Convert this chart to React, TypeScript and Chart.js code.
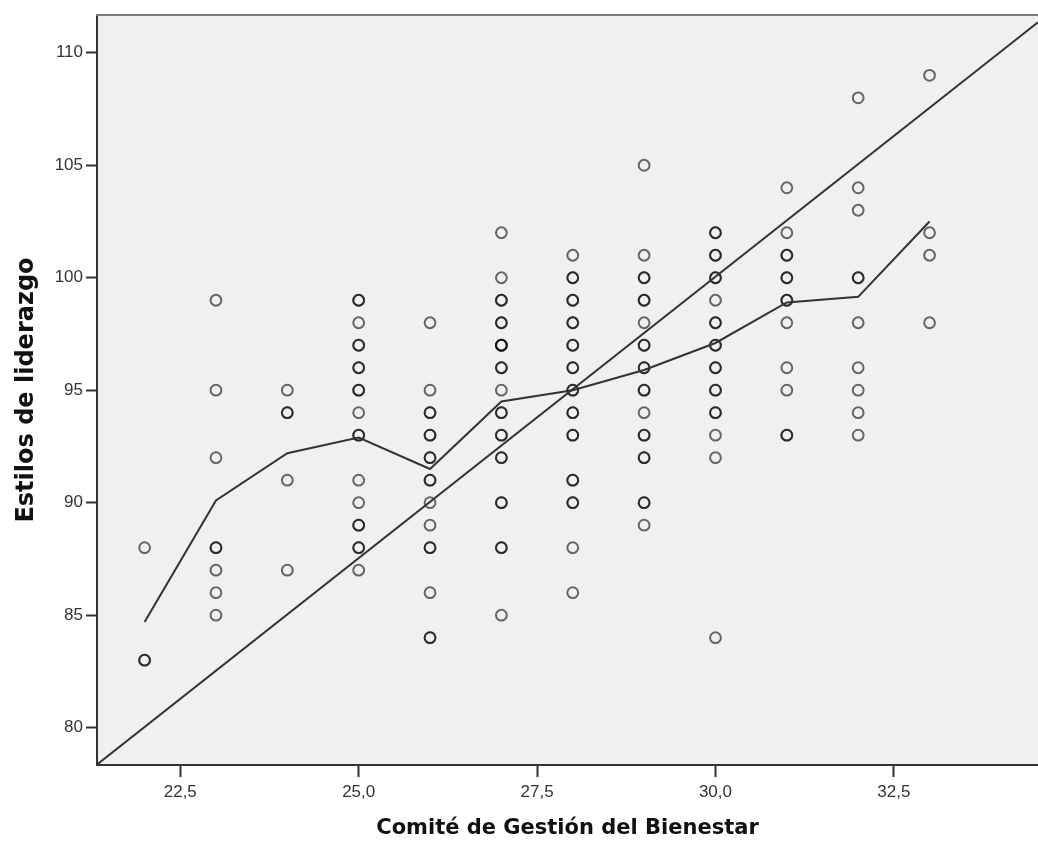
import React, { useEffect, useRef } from 'react';
import { Chart, registerables } from 'chart.js';

Chart.register(...registerables);

// X categories (Comité de Gestión del Bienestar)
const xValues = [22, 23, 24, 25, 26, 27, 28, 29, 30, 31, 32, 33];

// Observed values of "Estilos de liderazgo" per x value (repeats = overlapping cases)
const col22 = [88, 83, 83];
const col23 = [99, 95, 92, 88, 88, 87, 86, 85];
const col24 = [95, 94, 94, 91, 87];
const col25 = [99, 99, 98, 97, 97, 96, 96, 95, 95, 94, 93, 93, 91, 90, 89, 89, 88, 88, 87];
const col26 = [98, 95, 94, 94, 93, 93, 92, 92, 91, 91, 90, 89, 88, 88, 86, 84, 84];
const col27 = [102, 100, 99, 99, 98, 98, 97, 97, 97, 96, 96, 95, 94, 94, 93, 93, 92, 92, 90, 90, 88, 88, 85];
const col28 = [101, 100, 100, 99, 99, 98, 98, 97, 97, 96, 96, 95, 95, 94, 94, 93, 93, 91, 91, 90, 90, 88, 86];
const col29 = [105, 101, 100, 100, 99, 99, 98, 97, 97, 96, 96, 95, 95, 94, 93, 93, 92, 92, 90, 90, 89];
const col30 = [102, 102, 101, 101, 100, 100, 99, 98, 98, 97, 97, 96, 96, 95, 95, 94, 94, 93, 92, 84];
const col31 = [104, 102, 101, 101, 100, 100, 99, 99, 98, 96, 95, 93, 93];
const col32 = [108, 104, 103, 100, 100, 98, 96, 95, 94, 93];
const col33 = [109, 102, 101, 98];
const columns = [col22, col23, col24, col25, col26, col27, col28, col29, col30, col31, col32, col33];

// Loess (smoothed) line values at each x
const loessY = [84.7, 90.1, 92.2, 92.9, 91.5, 94.5, 95.0, 95.9, 97.1, 98.9, 99.15, 102.5];

// Linear fit line end points
const fitX = [21.333, 34.52];
const fitY = [78.36, 111.36];

// Axis ranges and ticks
const xRange = [21.333, 34.52];
const yRange = [78.34, 111.68];
const xTicks = [22.5, 25, 27.5, 30, 32.5];
const yTicks = [80, 85, 90, 95, 100, 105, 110];

const xTitle = 'Comité de Gestión del Bienestar';
const yTitle = 'Estilos de liderazgo';

const plotBg = {
  id: 'plotBg',
  beforeDraw(chart: any) {
    const { ctx, chartArea } = chart;
    ctx.save();
    ctx.fillStyle = '#f0f0f0';
    ctx.fillRect(chartArea.left, chartArea.top, chartArea.right - chartArea.left, chartArea.bottom - chartArea.top);
    ctx.restore();
  },
  afterDraw(chart: any) {
    const { ctx, chartArea } = chart;
    ctx.save();
    ctx.strokeStyle = '#7a7a7a';
    ctx.lineWidth = 2;
    ctx.beginPath();
    ctx.moveTo(chartArea.left - 1, chartArea.top);
    ctx.lineTo(chartArea.right, chartArea.top);
    ctx.stroke();
    ctx.restore();
  },
};

export default function App() {
  const ref = useRef<HTMLCanvasElement | null>(null);

  useEffect(() => {
    if (!ref.current) return;
    const points = columns.flatMap((col, i) => col.map((y) => ({ x: xValues[i], y })));
    const loess = xValues.map((x, i) => ({ x, y: loessY[i] }));
    const fit = fitX.map((x, i) => ({ x, y: fitY[i] }));

    const chart = new Chart(ref.current, {
      type: 'scatter',
      data: {
        datasets: [
          {
            label: 'fit',
            data: fit,
            showLine: true,
            borderColor: '#333',
            borderWidth: 2,
            pointRadius: 0,
            fill: false,
          },
          {
            label: 'loess',
            data: loess,
            showLine: true,
            borderColor: '#333',
            borderWidth: 2,
            pointRadius: 0,
            fill: false,
            tension: 0,
          },
          {
            label: 'cases',
            data: points,
            showLine: false,
            pointStyle: 'circle',
            pointRadius: 5.4,
            borderWidth: 2,
            borderColor: 'rgba(0,0,0,0.58)',
            backgroundColor: 'rgba(0,0,0,0)',
          },
        ],
      },
      options: {
        responsive: false,
        animation: false,
        events: [],
        layout: { autoPadding: false, padding: { top: 15, left: 0, right: 0, bottom: 0 } },
        plugins: {
          legend: { display: false },
          tooltip: { enabled: false },
        },
        scales: {
          x: {
            type: 'linear',
            min: xRange[0],
            max: xRange[1],
            afterBuildTicks: (s: any) => {
              s.ticks = xTicks.map((v) => ({ value: v }));
            },
            afterFit: (s: any) => {
              s.height = 76;
              s.paddingLeft = 0;
              s.paddingRight = 0;
            },
            ticks: {
              callback: (v: any) => Number(v).toFixed(1).replace('.', ','),
              font: { family: 'Liberation Sans', size: 17 },
              color: '#333',
              padding: 5,
              maxRotation: 0,
              autoSkip: false,
            },
            grid: {
              drawOnChartArea: false,
              drawTicks: true,
              tickLength: 12,
              tickWidth: 2,
              tickColor: '#333',
            },
            border: { display: true, color: '#333', width: 2 },
            title: {
              display: true,
              text: xTitle,
              font: { family: 'DejaVu Sans', weight: 'bold', size: 21 },
              color: '#111',
              padding: { top: 0, bottom: 0 },
            },
          },
          y: {
            type: 'linear',
            min: yRange[0],
            max: yRange[1],
            afterBuildTicks: (s: any) => {
              s.ticks = yTicks.map((v) => ({ value: v }));
            },
            afterFit: (s: any) => {
              s.width = 97;
              s.paddingTop = 0;
              s.paddingBottom = 0;
            },
            ticks: {
              callback: (v: any) => String(v),
              font: { family: 'Liberation Sans', size: 17 },
              color: '#333',
              padding: 3,
              autoSkip: false,
            },
            grid: {
              drawOnChartArea: false,
              drawTicks: true,
              tickLength: 11,
              tickWidth: 2,
              tickColor: '#333',
            },
            border: { display: true, color: '#333', width: 2 },
            title: {
              display: true,
              text: yTitle,
              font: { family: 'DejaVu Sans', weight: 'bold', size: 24 },
              color: '#111',
              padding: { top: 12, bottom: 0 },
            },
          },
        },
      },
      plugins: [plotBg],
    });

    return () => chart.destroy();
  }, []);

  return (
    <div style={{ position: 'absolute', left: 0, top: 0, width: 1038, height: 841, overflow: 'hidden', background: '#fff' }}>
      <canvas ref={ref} width={1038} height={841} style={{ display: 'block' }} />
    </div>
  );
}
